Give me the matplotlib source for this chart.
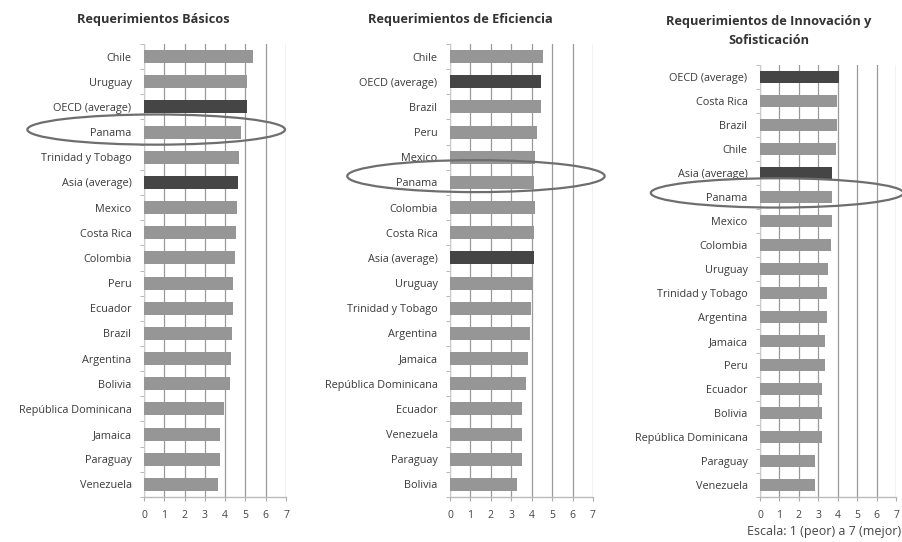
import matplotlib.pyplot as plt
from matplotlib.patches import Ellipse

# panel 1: requerimientos basicos
basic_names = ["Chile", "Uruguay", "OECD (average)", "Panama", "Trinidad y Tobago",
               "Asia (average)", "Mexico", "Costa Rica", "Colombia", "Peru", "Ecuador",
               "Brazil", "Argentina", "Bolivia", "República Dominicana", "Jamaica",
               "Paraguay", "Venezuela"]
basic_vals = [5.37, 5.07, 5.07, 4.78, 4.70, 4.62, 4.58, 4.55, 4.50, 4.40, 4.38,
              4.32, 4.30, 4.25, 3.93, 3.77, 3.77, 3.65]

# panel 2: requerimientos de eficiencia
eff_names = ["Chile", "OECD (average)", "Brazil", "Peru", "Mexico", "Panama",
             "Colombia", "Costa Rica", "Asia (average)", "Uruguay", "Trinidad y Tobago",
             "Argentina", "Jamaica", "República Dominicana", "Ecuador", "Venezuela",
             "Paraguay", "Bolivia"]
eff_vals = [4.56, 4.47, 4.45, 4.28, 4.18, 4.12, 4.15, 4.12, 4.12, 4.02, 3.97,
            3.93, 3.82, 3.73, 3.53, 3.50, 3.50, 3.28]

# panel 3: innovacion y sofisticacion
inn_names = ["OECD (average)", "Costa Rica", "Brazil", "Chile", "Asia (average)",
             "Panama", "Mexico", "Colombia", "Uruguay", "Trinidad y Tobago",
             "Argentina", "Jamaica", "Peru", "Ecuador", "Bolivia",
             "República Dominicana", "Paraguay", "Venezuela"]
inn_vals = [4.07, 3.98, 3.98, 3.90, 3.73, 3.73, 3.70, 3.67, 3.50, 3.47, 3.47,
            3.37, 3.33, 3.20, 3.17, 3.17, 2.85, 2.82]

titles = ["Requerimientos Básicos", "Requerimientos de Eficiencia",
          "Requerimientos de Innovación y\nSofisticación"]
scale_note = "Escala: 1 (peor) a 7 (mejor)"
xticks = list(range(0, 8))

W, H = 902, 542
plt.rcParams['font.family'] = ['Open Sans', 'DejaVu Sans']

fig = plt.figure(figsize=(W / 100, H / 100), dpi=100)
fig.patch.set_facecolor('white')

# axes boxes in pixels: left, top, right, bottom
boxes = [(144, 44, 286, 497), (450, 44, 593, 497), (760, 65, 896, 497)]
title_pos = [(153, 19), (460, 20), (769, 31)]
# ellipse: center x (data), y offset from Panama row, width (data), height (rows)
ell = [(0.6, -0.1, 12.7, 1.2), (1.27, -0.25, 12.6, 1.27), (0.88, -0.17, 13.0, 1.22)]

panels = [(basic_names, basic_vals), (eff_names, eff_vals), (inn_names, inn_vals)]

for i, (names, vals) in enumerate(panels):
    l, t, r, b = boxes[i]
    ax = fig.add_axes([l / W, 1 - b / H, (r - l) / W, (b - t) / H])
    n = len(names)
    ypos = list(range(n))
    colors = ['#454545' if 'average' in nm else '#969696' for nm in names]
    ax.barh(ypos, vals, height=0.52, color=colors, edgecolor='none', zorder=3)
    ax.set_xlim(0, 7)
    ax.set_ylim(n - 0.5, -0.5)
    ax.set_xticks(xticks)
    ax.set_xticklabels([str(v) for v in xticks], fontsize=7.5, color='#444444')
    ax.set_yticks(ypos)
    ax.set_yticklabels(names, fontsize=7.8, color='#3a3a3a')
    ax.set_yticks([k - 0.5 for k in range(n + 1)], minor=True)
    ax.tick_params(axis='y', which='major', length=0, pad=9)
    ax.tick_params(axis='y', which='minor', length=3, color='#aaaaaa', direction='out')
    ax.tick_params(axis='x', length=3, color='#aaaaaa', pad=6)
    ax.grid(axis='x', color='#9a9a9a', linewidth=0.9, zorder=0)
    for s in ['top', 'right']:
        ax.spines[s].set_visible(False)
    ax.spines['left'].set_color('#cccccc')
    ax.spines['bottom'].set_color('#bbbbbb')
    ax.spines['bottom'].set_linewidth(1.0)

    cx, dy, ew, eh = ell[i]
    py = names.index("Panama") + dy
    ax.add_patch(Ellipse((cx, py), ew, eh, fill=False, edgecolor='#6e6e6e',
                         linewidth=1.6, clip_on=False, zorder=5))

    tx, ty = title_pos[i]
    fig.text(tx / W, 1 - ty / H, titles[i], ha='center', va='center',
             fontsize=9.2, fontweight='bold', color='#333333', linespacing=1.5)

fig.text(0.999, 1 - 532 / H, scale_note, ha='right', va='center',
         fontsize=9, color='#444444')

fig.savefig('out.png', dpi=100)
